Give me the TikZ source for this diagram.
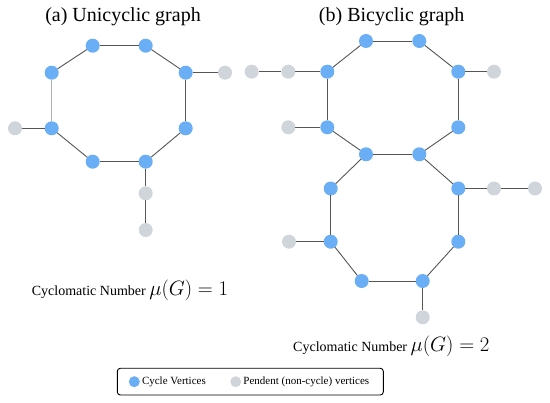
\documentclass[tikz,border=0pt]{standalone}
\usepackage[no-math]{fontspec}
\setmainfont{Liberation Serif}
\usetikzlibrary{positioning}
\definecolor{cycblue}{HTML}{6AAEF5}
\definecolor{pendgray}{HTML}{D0D5DB}
\definecolor{edgegray}{HTML}{555555}

\begin{document}
\begin{tikzpicture}[x=1pt,y=-1pt,
    cyc/.style = {circle,fill=cycblue,minimum size=14pt,inner sep=0pt,outer sep=0pt},
    pend/.style = {circle,fill=pendgray,minimum size=14pt,inner sep=0pt,outer sep=0pt},
    edge/.style = {draw=edgegray,line width=0.9pt},
    title/.style = {font=\fontsize{20}{24}\selectfont},
    cnum/.style = {anchor=west,inner sep=0pt,font=\fontsize{14}{16}\selectfont}]
    \useasboundingbox (0,0) rectangle (550,403);
    % (a) unicyclic
    \node[title] (ta) at (123,17) {(a) Unicyclic graph};
    \foreach \x/\y [count=\j] in {92.7/45.7,145.7/45.7,185.7/72.7,185.7/128.3,145.7/161.7,92.7/161.7,51.7/128.3,51.7/72.7} \node[cyc] (u\j) at (\x,\y) {};
    \foreach \x/\y [count=\j] in {225/72.7,15/128.3,145.7/193.3,145.7/230} \node[pend] (p\j) at (\x,\y) {};
    \foreach \i/\j in {1/2,2/3,3/4,4/5,5/6,6/7} \draw[edge] (u\i) -- (u\j);
    \draw[edge,draw=gray!60] (u7) -- (u8);
    \draw[edge] (u8) -- (u1);
    \draw[edge] (u3) -- (p1) (u7) -- (p2) (u5) -- (p3) -- (p4);
    \node[cnum] (na) at (31.7,290) {Cyclomatic Number \fontsize{20}{24}\selectfont$\mu(G) = 1$};
    % (b) bicyclic
    \node[title] (tb) at (391.7,17) {(b) Bicyclic graph};
    \foreach \x/\y [count=\j] in {366/41,419.3/41,458.3/71.7,458.3/127.3,419.3/154.3,366/154.3,327.3/127.3,327.3/71.7} \node[cyc] (a\j) at (\x,\y) {};
    \foreach \x/\y [count=\j] in {458.3/188.5,458.3/241.7,422.7/281,361.7/281,330.7/241.7,330.7/188.5} \node[cyc] (b\j) at (\x,\y) {};
    \foreach \x/\y [count=\j] in {251.7/71.7,288.3/71.7,288.3/127.3,494/71.7,494/188.5,535/188.5,289/241.7,422.7/317.3} \node[pend] (q\j) at (\x,\y) {};
    \foreach \i/\j in {1/2,2/3,3/4,4/5,5/6,6/7,7/8,8/1} \draw[edge] (a\i) -- (a\j);
    \foreach \i/\j in {1/2,2/3,3/4,4/5,5/6} \draw[edge] (b\i) -- (b\j);
    \draw[edge] (a5) -- (b1) (a6) -- (b6);
    \draw[edge] (q1) -- (q2) -- (a8) (q3) -- (a7) (a3) -- (q4) (b1) -- (q5) -- (q6) (b5) -- (q7) (b3) -- (q8);
    \node[cnum] (nb) at (293,346.7) {Cyclomatic Number \fontsize{20}{24}\selectfont$\mu(G) = 2$};
    % legend
    \draw[rounded corners=3pt,line width=0.9pt] (117.3,368.3) rectangle (383.3,395);
    \node[cyc,minimum size=11pt] (lc) at (134.3,381.7) {};
    \node[right=2pt of lc,inner sep=0pt,font=\fontsize{11}{13}\selectfont] (lct) {Cycle Vertices};
    \node[pend,minimum size=11pt] (lp) at (235.7,381.7) {};
    \node[right=2pt of lp,inner sep=0pt,font=\fontsize{11}{13}\selectfont] (lpt) {Pendent (non-cycle) vertices};
\end{tikzpicture}
\end{document}
